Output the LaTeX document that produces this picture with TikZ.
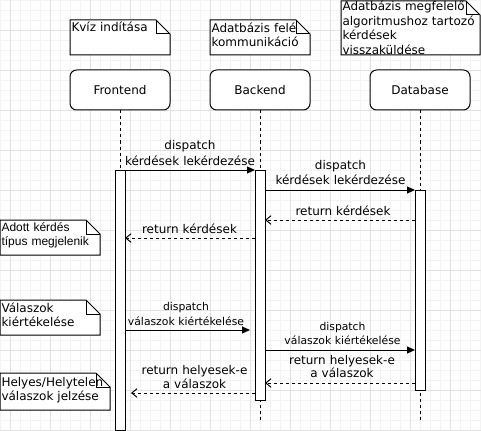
\documentclass[tikz,border=0pt]{standalone}
\usepackage{fontspec}
\setmainfont{DejaVu Sans}
\newfontfamily\arialf{Liberation Sans}
\usetikzlibrary{arrows.meta}
\definecolor{gridminor}{RGB}{243,243,243}
\definecolor{gridmajor}{RGB}{226,226,226}

\newcommand\foldnote[6]{% name, x1, y1, x2, y2, baseline y of first line
  \draw[notebg] (#2,#3) -- ({#4-14},#3) -- (#4,{#3+14}) -- (#4,#5) -- (#2,#5) -- cycle;
  \draw[notebg, fill=none] ({#4-14},#3) -- ({#4-14},{#3+14}) -- (#4,{#3+14});
  \coordinate (#1) at ({#2+1},#6);
}

\begin{document}
\begin{tikzpicture}[x=0.75pt,y=-0.75pt, line width=0.75pt,
  actor/.style={draw, fill=white, rounded corners=5pt, minimum width=75pt, minimum height=30pt, inner sep=0pt, font=\fontsize{9}{11}\selectfont},
  act/.style={draw, fill=white, minimum width=7.5pt, inner sep=0pt, outer sep=0pt},
  life/.style={dash pattern=on 2.25pt off 2.25pt},
  call/.style={-{Triangle[length=6pt,width=5.25pt]}},
  ret/.style={dash pattern=on 2.25pt off 2.25pt, -{Straight Barb[length=4pt,width=6.5pt]}},
  lbl/.style={align=center, text width=150pt, inner sep=0pt, anchor=base},
  notebg/.style={draw, fill=white},
  notetxt/.style={anchor=base west, inner sep=0pt, align=left, text width=140pt, font=\fontsize{9}{10.8}\selectfont}
]
\useasboundingbox (0,0) rectangle (481,431);
% grid
\foreach \x in {0,10,...,480} \draw[gridminor] (\x+0.5,0) -- (\x+0.5,431);
\foreach \y in {0,10,...,430} \draw[gridminor] (0,\y+0.5) -- (481,\y+0.5);
\foreach \x in {10,50,...,450} \draw[gridmajor] (\x+0.5,0) -- (\x+0.5,431);
\foreach \y in {30,70,...,430} \draw[gridmajor] (0,\y+0.5) -- (481,\y+0.5);

% notes
\foldnote{n1p}{70}{20}{170}{55}{31.5}
\node[notetxt] (n1) at (n1p) {Kvíz indítása};
\foldnote{n2p}{210}{20}{310}{55}{32.5}
\node[notetxt] (n2) at (n2p) {Adatbázis felé\\kommunikáció};
\foldnote{n3p}{341}{1}{480}{55}{11}
\node[notetxt] (n3) at (n3p) {Adatbázis megfelelő\\algoritmushoz tartozó\\kérdések\\visszaküldése};
\foldnote{n4p}{0}{220}{100}{255}{231}
\node[notetxt, font=\arialf\fontsize{9}{11}\selectfont] (n4) at (n4p) {Adott kérdés\\típus megjelenik};
\foldnote{n5p}{0}{300}{100}{335}{312}
\node[notetxt] (n5) at (n5p) {Válaszok\\kiértékelése};
\foldnote{n6p}{0}{373}{110}{410}{386.5}
\node[notetxt] (n6) at (n6p) {Helyes/Helytelen\\válaszok jelzése};

% actors
\node[actor] (fe) at (120,90) {Frontend};
\node[actor] (be) at (260,90) {Backend};
\node[actor] (de) at (420,90) {Database};

% lifeline ends
\coordinate (fend) at (120,430);
\coordinate (bend) at (260,420);
\coordinate (dend) at (420,420);
\draw[life] (fe.south) -- (fend);
\draw[life] (be.south) -- (bend);
\draw[life] (de.south) -- (dend);

% activations
\node[act, minimum height=195pt] (fa) at (120,300) {};
\node[act, minimum height=172.5pt] (ba) at (260,285) {};
\node[act, minimum height=150pt] (da) at (420,290) {};

% message rows
\coordinate (y3) at (0,220);
\coordinate (y4) at (0,238);
\coordinate (y5) at (0,330);
\coordinate (y6) at (0,350);
\coordinate (y7) at (0,383);
\coordinate (y8) at (0,393);
\coordinate (m5end) at (250,330);
\coordinate (m8end) at (131,393);

\draw[call] (fa.north east) -- (ba.north west);
\draw[call] (ba.east |- da.north) -- (da.north west);
\draw[ret] (da.west |- y3) -- (ba.east |- y3);
\draw[ret] (ba.west |- y4) -- (fa.east |- y4);
\draw[call] (fa.east |- y5) -- (m5end);
\draw[call] (ba.east |- y6) -- (da.west |- y6);
\draw[ret] (da.west |- y7) -- (ba.east |- y7);
\draw[ret] (ba.west |- y8) -- (m8end);

% labels
\node[lbl, font=\fontsize{9}{11.25}\selectfont] (l1) at (190,150) {dispatch\\kérdések lekérdezése};
\node[lbl, font=\fontsize{9}{11.25}\selectfont] (l2) at (340.5,169.5) {dispatch\\kérdések lekérdezése};
\node[lbl, font=\fontsize{9}{11}\selectfont] (l3) at (343,215) {return kérdések};
\node[lbl, font=\fontsize{9}{11}\selectfont] (l4) at (189.5,233.5) {return kérdések};
\node[lbl, font=\fontsize{8.1}{11.25}\selectfont] (l5) at (186,310) {dispatch\\válaszok kiértékelése};
\node[lbl, font=\fontsize{8.1}{10.9}\selectfont] (l6) at (342.5,330) {dispatch\\válaszok kiértékelése};
\node[lbl, font=\fontsize{9}{10.3}\selectfont] (l7) at (342,364) {return helyesek-e\\a válaszok};
\node[lbl, font=\fontsize{9}{10.7}\selectfont] (l8) at (194.5,374) {return helyesek-e\\a válaszok};
\end{tikzpicture}
\end{document}
